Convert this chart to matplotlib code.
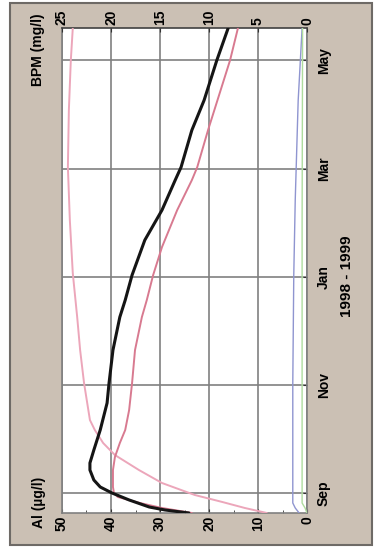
import matplotlib
matplotlib.use("Agg")
import matplotlib.pyplot as plt
from matplotlib.patches import Rectangle

# Time in months after 1 Sep 1998
month_pos = [0, 2, 4, 6, 8]
month_labels = ["Sep", "Nov", "Jan", "Mar", "May"]

al_ticks = [0, 10, 20, 30, 40, 50]
bpm_ticks = [0, 5, 10, 15, 20, 25]

black_t = [-0.370, -0.314, -0.259, -0.129, 0.0, 0.111, 0.240, 0.425, 0.555, 0.795,
           1.165, 1.664, 2.033, 2.643, 3.253, 3.567, 4.030, 4.677, 5.231, 5.786,
           6.026, 6.710, 7.264, 8.004, 8.595]
black_v = [24.1, 29.0, 32.2, 36.3, 39.8, 42.2, 43.5, 44.3, 44.3, 43.5,
           42.2, 40.8, 40.4, 39.6, 38.2, 37.1, 35.7, 33.1, 29.6, 26.9,
           25.7, 23.5, 21.0, 18.4, 16.1]

pink1_t = [-0.370, -0.277, -0.166, -0.037, 0.185, 0.425, 0.702, 0.924, 1.165, 1.349,
           2.033, 2.643, 3.253, 4.067, 5.046, 6.026, 7.079, 8.004, 8.595]
pink1_v = [8.2, 12.7, 17.3, 22.9, 29.6, 34.3, 39.2, 41.6, 43.3, 44.3,
           45.5, 46.3, 46.9, 47.8, 48.4, 48.8, 48.6, 48.2, 47.8]

pink2_t = [-0.370, -0.277, -0.185, -0.074, 0.0, 0.111, 0.425, 0.665, 0.924, 1.165,
           1.534, 2.033, 2.643, 3.253, 3.567, 4.030, 4.547, 5.231, 5.786, 6.026,
           6.710, 8.004, 8.595]
pink2_v = [23.5, 29.6, 34.1, 38.6, 39.4, 39.6, 39.6, 39.2, 38.2, 37.1,
           36.3, 35.7, 35.1, 33.7, 32.7, 31.4, 29.6, 26.5, 23.5, 22.4,
           20.2, 15.7, 14.1]

blue_t = [-0.370, -0.277, -0.185, 2.033, 4.030, 5.420, 7.260, 8.595]
blue_v = [1.6, 2.4, 2.9, 2.9, 2.7, 2.4, 1.8, 1.0]

green_t = [-0.370, -0.277, -0.185, 2.0, 5.0, 8.595]
green_v = [0.0, 0.4, 1.0, 1.0, 1.0, 0.9]

plt.rcParams['font.family'] = ['Liberation Sans', 'DejaVu Sans']

fig = plt.figure(figsize=(3.76, 5.53), dpi=100)
fig.patch.set_facecolor('white')
fig.patches.append(Rectangle((10/376, 1-545/553), 362/376, 542/553,
                             transform=fig.transFigure, facecolor='#cbc0b4',
                             edgecolor='#6e6a66', lw=1.5, zorder=-10))

ax = fig.add_axes([62/376, 1-513/553, 245/376, 485/553])
ax.set_facecolor('white')
ax.set_xlim(50, 0)
ax.set_ylim(-0.37, 8.6)

kw = dict(solid_joinstyle='round', solid_capstyle='round')
ax.plot(pink1_v, pink1_t, color='#eca6ba', lw=1.4, zorder=3, **kw)
ax.plot(pink2_v, pink2_t, color='#d87a90', lw=1.4, zorder=3, **kw)
ax.plot(blue_v, blue_t, color='#8f95d0', lw=1.0, zorder=3, **kw)
ax.plot(green_v, green_t, color='#aedc9e', lw=1.0, zorder=3, **kw)
ax.plot(black_v, black_t, color='#151515', lw=2.2, zorder=4, **kw)

fs = 10
ax.set_xticks(al_ticks)
ax.set_xticklabels([str(v) for v in al_ticks], rotation=90, fontweight='bold',
                   fontsize=fs, va='top', ha='center')
ax.set_xticks([5, 15, 25, 35, 45], minor=True)
ax.yaxis.tick_right()
ax.set_yticks(month_pos)
ax.set_yticklabels(month_labels, rotation=90, fontweight='bold', fontsize=fs,
                   va='center', ha='left')
ax.tick_params(axis='x', which='major', direction='in', length=3, pad=2, color='#333333')
ax.tick_params(axis='x', which='minor', direction='in', length=2, color='#333333')
ax.tick_params(axis='y', which='major', direction='in', length=3, pad=7, color='#333333')
ax.grid(True, which='major', color='#808080', lw=1.2, zorder=1)
for s in ax.spines.values():
    s.set_color('#808080')
    s.set_linewidth(1.2)
ax.spines['top'].set_color('#404040')

ax2 = ax.twiny()
ax2.set_xlim(25, 0)
ax2.set_xticks(bpm_ticks)
ax2.set_xticklabels([str(v) for v in bpm_ticks], rotation=90, fontweight='bold',
                    fontsize=fs, va='bottom', ha='center')
ax2.tick_params(axis='x', direction='in', length=3, pad=2, color='#333333')
for s in ax2.spines.values():
    s.set_visible(False)

fig.text(39/376, 1-502/553, "Al (µg/l)", rotation=90, fontweight='bold',
         fontsize=fs, ha='center', va='center')
fig.text(38/376, 1-50/553, "BPM (mg/l)", rotation=90, fontweight='bold',
         fontsize=fs, ha='center', va='center')
fig.text(347/376, 1-276/553, "1998 - 1999", rotation=90, fontweight='bold',
         fontsize=11, ha='center', va='center')

fig.savefig("out.png", dpi=100, facecolor=fig.get_facecolor())
